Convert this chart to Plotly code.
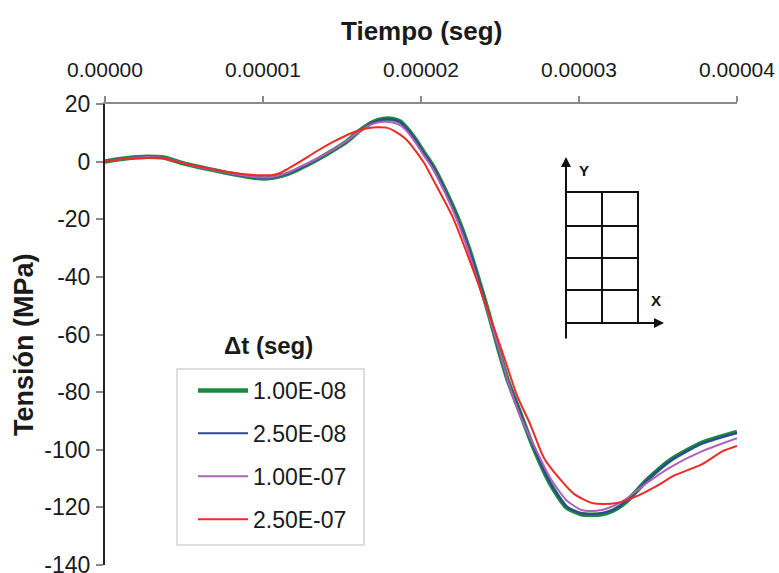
import plotly.graph_objects as go

# ---------------- data (time in microseconds, stress in MPa) ----------------
t_1e08 = [0.0, 1.0, 2.0, 2.7, 3.7, 4.9, 6.5, 8.1, 9.6, 10.3, 10.9, 11.6, 12.3, 13.4, 14.4,
          15.3, 16.1, 16.9, 17.6, 18.2, 18.7, 19.2, 19.7, 20.2, 20.7, 21.5, 22.3, 23.0, 23.6,
          24.3, 24.9, 25.5, 26.3, 27.1, 28.2, 29.2, 30.1, 30.8, 31.5, 32.2, 33.0, 34.3, 35.8,
          37.8, 40.0]
s_1e08 = [0.0, 0.9, 1.5, 1.7, 1.4, -0.5, -2.5, -4.3, -5.7, -5.8, -5.3, -4.2, -2.5, 0.6, 3.8,
          7.0, 10.7, 13.6, 14.8, 14.8, 13.9, 11.0, 7.3, 3.0, -1.0, -9.5, -19.2, -29.5, -40.0,
          -53.0, -65.0, -76.0, -87.5, -99.0, -112.0, -120.0, -122.3, -122.6, -122.3, -121.0,
          -118.0, -110.5, -103.5, -97.5, -93.8]

t_25e08 = [0.0, 1.0, 2.0, 2.7, 3.7, 4.9, 6.5, 8.1, 9.6, 10.3, 10.9, 11.6, 12.3, 13.4, 14.4,
           15.3, 16.1, 16.9, 17.6, 18.2, 18.7, 19.2, 19.7, 20.2, 20.7, 21.5, 22.3, 23.0, 23.6,
           24.3, 24.9, 25.5, 26.3, 27.1, 28.2, 29.2, 30.1, 30.8, 31.5, 32.2, 33.0, 34.3, 35.8,
           37.8, 40.0]
s_25e08 = [0.0, 0.9, 1.5, 1.7, 1.4, -0.5, -2.5, -4.3, -5.6, -5.7, -5.2, -4.1, -2.4, 0.7, 3.8,
           7.0, 10.6, 13.5, 14.6, 14.6, 13.7, 10.8, 7.1, 2.8, -1.2, -9.7, -19.4, -29.7, -40.2,
           -53.2, -65.0, -76.0, -87.5, -98.8, -111.7, -119.7, -122.0, -122.3, -122.0, -120.8,
           -117.8, -110.6, -103.7, -97.8, -94.2]

t_1e07 = [0.0, 1.0, 2.0, 2.7, 3.7, 4.9, 6.5, 8.1, 9.6, 10.3, 10.9, 11.6, 12.3, 13.4, 14.4,
          15.3, 16.1, 16.9, 17.6, 18.2, 18.7, 19.2, 19.7, 20.2, 20.7, 21.5, 22.3, 23.0, 23.6,
          24.3, 24.9, 25.6, 26.3, 27.1, 28.2, 29.2, 30.1, 30.8, 31.5, 32.2, 33.0, 34.3, 35.8,
          37.8, 40.0]
s_1e07 = [0.0, 0.85, 1.4, 1.6, 1.35, -0.5, -2.5, -4.2, -5.4, -5.5, -5.0, -3.8, -2.0, 1.0, 4.0,
          7.2, 10.5, 13.0, 13.8, 13.6, 12.6, 10.0, 6.2, 2.0, -2.0, -10.5, -20.5, -31.0, -41.5,
          -53.5, -64.5, -78.0, -88.5, -98.0, -110.0, -117.5, -120.8, -121.3, -120.8, -119.5,
          -117.0, -111.5, -106.0, -100.5, -96.0]

t_25e07 = [0.0, 1.0, 2.0, 2.7, 3.7, 4.9, 6.5, 8.1, 9.0, 9.6, 10.5, 11.0, 11.6, 12.4, 13.4,
           14.5, 15.7, 16.5, 17.2, 17.8, 18.3, 19.0, 19.5, 20.2, 20.8, 22.0, 23.6, 25.1, 26.1,
           26.9, 27.8, 28.8, 29.7, 30.9, 32.3, 33.7, 35.1, 36.0, 37.8, 39.1, 40.0]
s_25e07 = [0.0, 0.8, 1.2, 1.3, 1.2, -0.5, -2.3, -3.9, -4.5, -4.7, -4.7, -4.1, -2.4, 0.2, 3.6,
           7.0, 10.1, 11.5, 11.9, 11.8, 10.7, 8.0, 4.9, -0.5, -6.6, -19.2, -42.0, -65.3, -81.5,
           -91.0, -103.0, -110.2, -115.4, -118.6, -118.6, -116.0, -112.0, -109.0, -105.0,
           -100.5, -98.7]

series_names = ["1.00E-08", "2.50E-08", "1.00E-07", "2.50E-07"]
series_t = [t_1e08, t_25e08, t_1e07, t_25e07]
series_s = [s_1e08, s_25e08, s_1e07, s_25e07]
series_colors = ["#1b8a3e", "#30459c", "#b160b8", "#ee2a24"]
series_widths = [4.5, 2.0, 2.0, 2.0]

x_ticks = [0.0, 1e-5, 2e-5, 3e-5, 4e-5]
x_tick_text = ["0.00000", "0.00001", "0.00002", "0.00003", "0.00004"]
y_ticks = [20, 0, -20, -40, -60, -80, -100, -120, -140]
y_tick_text = ["20", "0", "-20", "-40", "-60", "-80", "-100", "-120", "-140"]

FONT = "Liberation Sans, Arial, sans-serif"
TXT = "#1a1a1a"

fig = go.Figure()
for i, (name, tt, ss, col, w) in enumerate(zip(series_names, series_t, series_s,
                                                series_colors, series_widths)):
    fig.add_trace(go.Scatter(
        x=[v * 1e-6 for v in tt], y=ss, mode="lines", name=name,
        line=dict(color=col, width=w, shape="spline", smoothing=0.6), legendgroup=f"g{i}"))

fig.update_xaxes(
    range=[0, 4e-5], side="top", tickvals=x_ticks, ticktext=x_tick_text,
    showline=True, linecolor="#8a8a8a", linewidth=2, ticks="outside", ticklen=6,
    tickcolor="#8a8a8a", tickwidth=1.5, showgrid=False, zeroline=False,
    tickfont=dict(size=21, color=TXT, family=FONT), ticklabelstandoff=11,
    ticklabeloverflow="allow", automargin=False)
fig.update_yaxes(
    range=[-140, 20], tickvals=y_ticks, ticktext=y_tick_text, showline=True,
    linecolor="#222222", linewidth=2, ticks="outside", ticklen=7, tickcolor="#8a8a8a",
    tickwidth=1.5, showgrid=False, zeroline=False,
    tickfont=dict(size=23, color=TXT, family=FONT), ticklabelstandoff=1,
    ticklabeloverflow="allow", automargin=False)


def px2paper(px, py):
    return (px - 105) / 632.0, (565 - py) / 461.0


def label(px, py, text, size, color=TXT, angle=0):
    x, y = px2paper(px, py)
    return dict(xref="paper", yref="paper", x=x, y=y, text=text, showarrow=False,
                xanchor="center", yanchor="middle", textangle=angle,
                font=dict(size=size, color=color, family=FONT))


shapes = []
# legend frame
bx0, by0 = px2paper(177, 369)
bx1, by1 = px2paper(364, 545)
shapes.append(dict(type="rect", xref="paper", yref="paper", x0=bx0, y0=by1, x1=bx1, y1=by0,
                   line=dict(color="#d4d4d4", width=1.5), fillcolor="white", layer="below"))
# inset: grid of elements
x0, y0 = px2paper(566, 192)
x1, y1 = px2paper(638, 323)
shapes.append(dict(type="rect", xref="paper", yref="paper", x0=x0, y0=y1, x1=x1, y1=y0,
                   line=dict(color="#111111", width=2)))
xm, _ = px2paper(602, 0)
shapes.append(dict(type="line", xref="paper", yref="paper", x0=xm, x1=xm, y0=y1, y1=y0,
                   line=dict(color="#111111", width=2)))
for py in (226, 258, 290):
    _, yy = px2paper(0, py)
    shapes.append(dict(type="line", xref="paper", yref="paper", x0=x0, x1=x1, y0=yy, y1=yy,
                       line=dict(color="#111111", width=2)))

annotations = []
# Y arrow
hx, hy = px2paper(566, 157)
annotations.append(dict(xref="paper", yref="paper", x=hx, y=hy, ax=0, ay=183, text="",
                        showarrow=True, arrowhead=2, arrowsize=1, arrowwidth=2,
                        arrowcolor="#111111"))
# X arrow
hx, hy = px2paper(664, 323)
annotations.append(dict(xref="paper", yref="paper", x=hx, y=hy, ax=-98, ay=0, text="",
                        showarrow=True, arrowhead=2, arrowsize=1, arrowwidth=2,
                        arrowcolor="#111111"))
annotations.append(label(584, 170, "<b>Y</b>", 15, "#111111"))
annotations.append(label(656, 300, "<b>X</b>", 15, "#111111"))
# legend title
annotations.append(label(268, 345, "<b>Δt (seg)</b>", 24))
# axis titles
annotations.append(label(421, 31, "<b>Tiempo (seg)</b>", 26))
annotations.append(label(24, 345, "<b>Tensión (MPa)</b>", 27, angle=-90))

lgx, lgy = px2paper(193, 369)
fig.update_layout(
    width=779, height=573, margin=dict(l=105, r=42, t=104, b=8),
    plot_bgcolor="white", paper_bgcolor="white",
    font=dict(family=FONT, color=TXT),
    shapes=shapes, annotations=annotations,
    showlegend=True,
    legend=dict(x=lgx, y=lgy, xanchor="left", yanchor="top", bgcolor="rgba(0,0,0,0)",
                borderwidth=0, font=dict(size=23, family=FONT, color=TXT),
                tracegroupgap=10, traceorder="grouped", itemwidth=50),
)

fig.write_html("out.html")
